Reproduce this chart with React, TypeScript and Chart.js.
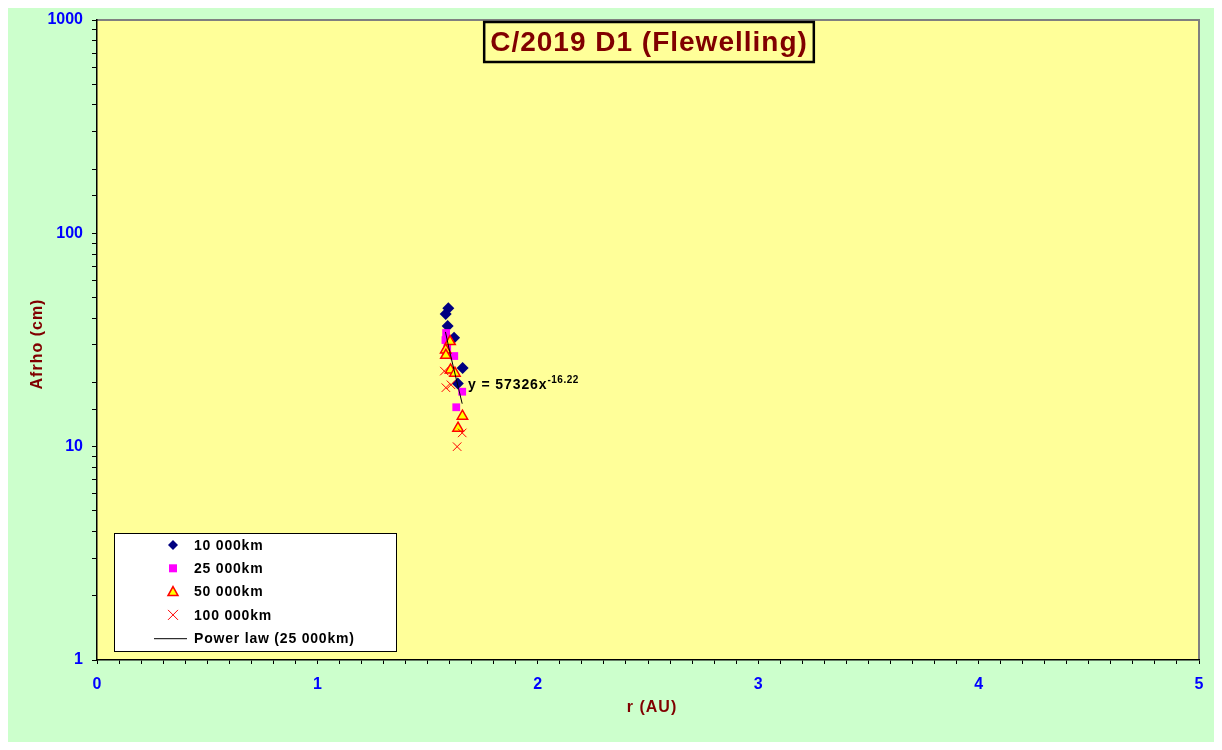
import React, { useEffect, useRef } from "react";
import { Chart, registerables } from "chart.js";

Chart.register(...registerables);

// 10 000 km aperture
const r10k = [1.594, 1.582, 1.591, 1.620, 1.659, 1.637];
const afrho10k = [44.5, 41.9, 36.8, 32.4, 23.4, 19.8];
// 25 000 km aperture
const r25k = [1.584, 1.581, 1.589, 1.584, 1.621, 1.657, 1.630];
const afrho25k = [34.1, 31.6, 28.9, 27.7, 26.6, 18.1, 15.3];
// 50 000 km aperture
const r50k = [1.602, 1.582, 1.583, 1.604, 1.624, 1.658, 1.638];
const afrho50k = [31.1, 28.4, 26.8, 22.9, 22.1, 13.9, 12.2];
// 100 000 km aperture
const r100k = [1.576, 1.583, 1.606, 1.657, 1.634];
const afrho100k = [22.6, 18.9, 19.5, 11.6, 10.0];
// power-law trend line (25 000 km)
const trendR = [1.581, 1.6, 1.62, 1.64, 1.657];
const trendAfrho = [34.5, 28.0, 22.9, 18.8, 15.9];

const xTickLabels = ["0", "1", "2", "3", "4", "5"];
const yTickLabels = ["1", "10", "100", "1000"];

const titleText = "C/2019 D1 (Flewelling)";
const xTitle = "r (AU)";
const yTitle = "Afrho (cm)";
const eqMain = "y = 57326x";
const eqExp = "-16.22";

const seriesNames = ["10 000km", "25 000km", "50 000km", "100 000km", "Power law (25 000km)"];

const pts = (xs: number[], ys: number[]) => xs.map((x, i) => ({ x, y: ys[i] }));

const FONT = "'Liberation Sans', Arial, sans-serif";
const DARKRED = "#800000";

function drawMarker(ctx: CanvasRenderingContext2D, kind: string, x: number, y: number) {
  ctx.save();
  if (kind === "diamond") {
    ctx.fillStyle = "#000080";
    ctx.beginPath();
    ctx.moveTo(x, y - 5);
    ctx.lineTo(x + 5, y);
    ctx.lineTo(x, y + 5);
    ctx.lineTo(x - 5, y);
    ctx.closePath();
    ctx.fill();
  } else if (kind === "square") {
    ctx.fillStyle = "#FF00FF";
    ctx.fillRect(x - 4, y - 4, 8, 8);
  } else if (kind === "triangle") {
    ctx.fillStyle = "#FFFF00";
    ctx.strokeStyle = "#FF0000";
    ctx.lineWidth = 1.5;
    ctx.beginPath();
    ctx.moveTo(x, y - 5);
    ctx.lineTo(x + 5, y + 4);
    ctx.lineTo(x - 5, y + 4);
    ctx.closePath();
    ctx.fill();
    ctx.stroke();
  } else if (kind === "cross") {
    ctx.strokeStyle = "#FF0000";
    ctx.lineWidth = 1;
    ctx.beginPath();
    ctx.moveTo(x - 5, y - 5);
    ctx.lineTo(x + 5, y + 5);
    ctx.moveTo(x + 5, y - 5);
    ctx.lineTo(x - 5, y + 5);
    ctx.stroke();
  } else {
    ctx.strokeStyle = "#000000";
    ctx.lineWidth = 1;
    ctx.beginPath();
    ctx.moveTo(x - 19, y + 0.5);
    ctx.lineTo(x + 14, y + 0.5);
    ctx.stroke();
  }
  ctx.restore();
}

const decorPlugin = {
  id: "decor",
  beforeDraw(chart: any) {
    const { ctx, chartArea } = chart;
    ctx.save();
    ctx.fillStyle = "#CCFFCC";
    ctx.fillRect(0, 0, chart.width, chart.height);
    ctx.fillStyle = "#FFFF99";
    ctx.fillRect(chartArea.left, chartArea.top, chartArea.right - chartArea.left, chartArea.bottom - chartArea.top);
    ctx.strokeStyle = "#808080";
    ctx.lineWidth = 2;
    ctx.beginPath();
    ctx.moveTo(chartArea.left, chartArea.top);
    ctx.lineTo(chartArea.right, chartArea.top);
    ctx.lineTo(chartArea.right, chartArea.bottom);
    ctx.stroke();
    ctx.restore();
  },
  afterDraw(chart: any) {
    const { ctx } = chart;
    ctx.save();
    // title box
    ctx.font = `bold 28px ${FONT}`;
    (ctx as any).letterSpacing = "1px";
    const tw = ctx.measureText(titleText).width;
    const cx = 641;
    const bw = tw + 12;
    ctx.fillStyle = "#FFFF99";
    ctx.fillRect(cx - bw / 2, 14, bw, 40);
    ctx.strokeStyle = "#000000";
    ctx.lineWidth = 2.5;
    ctx.strokeRect(cx - bw / 2, 14, bw, 40);
    ctx.fillStyle = DARKRED;
    ctx.textAlign = "center";
    ctx.textBaseline = "middle";
    ctx.fillText(titleText, cx, 35);

    // axis titles
    ctx.font = `bold 16px ${FONT}`;
    ctx.fillText(xTitle, 644, 700);
    ctx.save();
    ctx.translate(30, 336);
    ctx.rotate(-Math.PI / 2);
    ctx.fillText(yTitle, 0, 0);
    ctx.restore();

    // trend equation
    ctx.fillStyle = "#000000";
    ctx.textAlign = "left";
    ctx.textBaseline = "alphabetic";
    ctx.font = `bold 14px ${FONT}`;
    (ctx as any).letterSpacing = "0.9px";
    ctx.fillText(eqMain, 460, 381);
    const ew = ctx.measureText(eqMain).width;
    ctx.font = `bold 10px ${FONT}`;
    (ctx as any).letterSpacing = "0.5px";
    ctx.fillText(eqExp, 460 + ew, 375);

    // legend
    const lx = 106, ly = 525, lw = 282, lh = 118;
    ctx.fillStyle = "#FFFFFF";
    ctx.fillRect(lx, ly, lw, lh);
    ctx.strokeStyle = "#000000";
    ctx.lineWidth = 1;
    ctx.strokeRect(lx + 0.5, ly + 0.5, lw, lh);
    const kinds = ["diamond", "square", "triangle", "cross", "line"];
    ctx.font = `bold 14px ${FONT}`;
    (ctx as any).letterSpacing = "0.8px";
    ctx.textBaseline = "middle";
    seriesNames.forEach((name, i) => {
      const y = ly + 12 + i * 23.3;
      drawMarker(ctx, kinds[i], 165, y);
      ctx.fillStyle = "#000000";
      ctx.fillText(name, 186, y + 1);
    });
    ctx.restore();
  },
};

export default function App() {
  const ref = useRef<HTMLCanvasElement>(null);
  useEffect(() => {
    if (!ref.current) return;
    const chart = new Chart(ref.current, {
      type: "scatter",
      data: {
        datasets: [
          {
            label: seriesNames[4],
            data: pts(trendR, trendAfrho),
            showLine: true,
            borderColor: "#000000",
            borderWidth: 1,
            pointRadius: 0,
            order: 1,
          },
          {
            label: seriesNames[3],
            data: pts(r100k, afrho100k),
            pointStyle: "crossRot",
            pointRadius: 6,
            borderColor: "#FF0000",
            borderWidth: 1,
            order: 2,
          },
          {
            label: seriesNames[2],
            data: pts(r50k, afrho50k),
            pointStyle: "triangle",
            pointRadius: 6,
            backgroundColor: "#FFFF00",
            borderColor: "#FF0000",
            borderWidth: 1.5,
            order: 3,
          },
          {
            label: seriesNames[1],
            data: pts(r25k, afrho25k),
            pointStyle: "rect",
            pointRadius: 5.5,
            backgroundColor: "#FF00FF",
            borderColor: "#FF00FF",
            borderWidth: 0,
            order: 4,
          },
          {
            label: seriesNames[0],
            data: pts(r10k, afrho10k),
            pointStyle: "rectRot",
            pointRadius: 6,
            backgroundColor: "#000080",
            borderColor: "#000080",
            borderWidth: 0,
            order: 5,
          },
        ],
      },
      options: {
        responsive: false,
        animation: false,
        layout: { padding: { left: 0, right: 15, top: 12, bottom: 0 } },
        plugins: { legend: { display: false }, tooltip: { enabled: false }, title: { display: false } },
        scales: {
          x: {
            type: "linear",
            min: 0,
            max: 5,
            ticks: {
              stepSize: 0.1,
              autoSkip: false,
              maxRotation: 0,
              color: "#0000FF",
              font: { family: FONT, size: 16, weight: "bold" },
              padding: 11,
              callback: (v: any) => {
                const n = Math.round(Number(v) * 10);
                return n % 10 === 0 ? xTickLabels[n / 10] : "";
              },
            },
            grid: { drawOnChartArea: false, drawTicks: true, tickLength: 4, tickColor: "#000000" },
            border: { color: "#000000", width: 1.5 },
            afterFit: (s: any) => {
              s.height = 82;
              s.paddingLeft = 0;
              s.paddingRight = 0;
            },
          },
          y: {
            type: "logarithmic",
            min: 1,
            max: 1000,
            ticks: {
              autoSkip: false,
              color: "#0000FF",
              font: { family: FONT, size: 16, weight: "bold" },
              padding: 9,
              callback: (v: any) => {
                const lg = Math.log10(Number(v));
                const k = Math.round(lg);
                return Math.abs(lg - k) < 1e-9 ? yTickLabels[k] : "";
              },
            },
            grid: { drawOnChartArea: false, drawTicks: true, tickLength: 5, tickColor: "#000000" },
            border: { color: "#000000", width: 1.5 },
            afterFit: (s: any) => {
              s.width = 89;
              s.paddingTop = 0;
              s.paddingBottom = 0;
            },
          },
        },
      } as any,
      plugins: [decorPlugin],
    });
    return () => chart.destroy();
  }, []);
  return (
    <div style={{ width: 1206, height: 734, background: "#CCFFCC" }}>
      <canvas ref={ref} width={1206} height={734} style={{ display: "block" }} />
    </div>
  );
}
